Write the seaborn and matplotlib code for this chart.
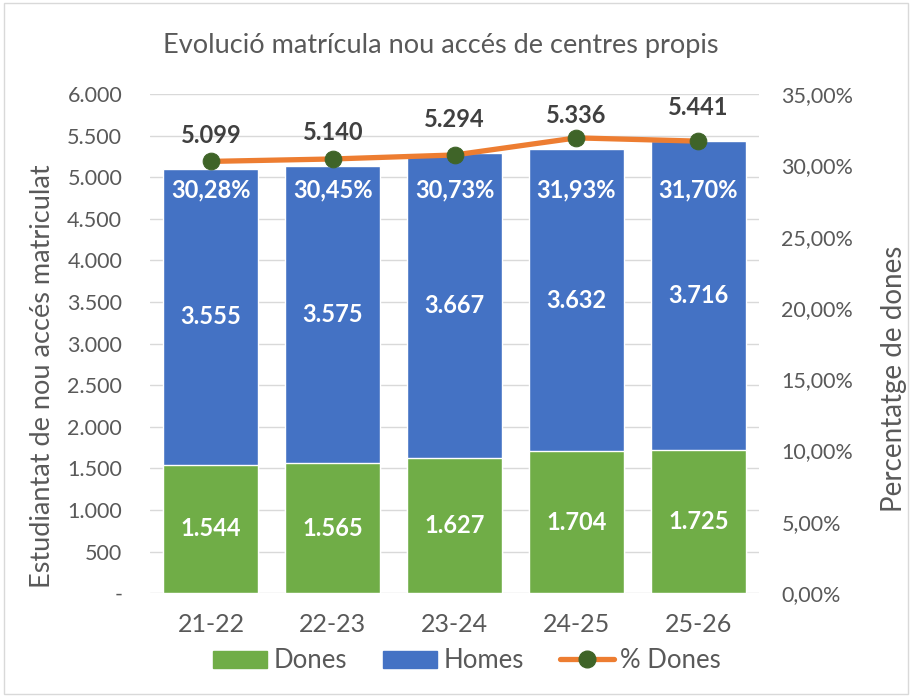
import numpy as np
import pandas as pd
import matplotlib
matplotlib.use('Agg')
import matplotlib.pyplot as plt
import seaborn as sns
from matplotlib.patches import Rectangle, Patch
from matplotlib.lines import Line2D

# Dades (llegides del gràfic)
cursos = ['21-22', '22-23', '23-24', '24-25', '25-26']
dones = [1544, 1565, 1627, 1704, 1725]
homes = [3555, 3575, 3667, 3632, 3716]
pct_dones = [30.28, 30.45, 30.73, 31.93, 31.70]

df = pd.DataFrame({'curs': cursos, 'dones': dones, 'homes': homes, 'pct': pct_dones})
df['total'] = df['dones'] + df['homes']

sns.set_style('white')
plt.rcParams['font.family'] = ['Lato', 'DejaVu Sans']

GREEN = '#70AD47'
BLUE = '#4472C4'
ORANGE = '#ED7D31'
DKGREEN = '#3F6428'
GREY = '#595959'

fig = plt.figure(figsize=(9.12, 6.97), dpi=100)
ax = fig.add_axes([0.1645, 0.149, 0.668, 0.716])

# barres apilades: total (blau) i dones (verd) al damunt
sns.barplot(data=df, x='curs', y='total', color=BLUE, width=0.78, saturation=1, ax=ax)
sns.barplot(data=df, x='curs', y='dones', color=GREEN, width=0.78, saturation=1, ax=ax)

ax.set_xlim(-0.5, 4.5)
ax.set_ylim(0, 6000)
yt = np.arange(0, 6001, 500)
ax.set_yticks(yt)
ax.set_yticklabels(['-' if v == 0 else f'{v:,.0f}'.replace(',', '.') for v in yt])
ax.yaxis.grid(True, color='#D9D9D9', lw=1)
ax.set_axisbelow(True)
ax.set_xlabel('')
ax.set_ylabel('Estudiantat de nou accés matriculat', fontsize=19.5, color=GREY)
ax.yaxis.set_label_coords(-0.156, 0.435)
ax.tick_params(axis='y', length=0, pad=20, labelsize=15.5, labelcolor=GREY)
ax.tick_params(axis='x', length=0, pad=14, labelsize=18, labelcolor=GREY)
for s in ax.spines.values():
    s.set_visible(False)

# línia % dones a l'eix secundari
ax2 = ax.twinx()
x = np.arange(len(cursos))
sns.lineplot(x=x, y=df['pct'], color=ORANGE, lw=3.8, marker='o', markersize=12,
             markerfacecolor=DKGREEN, markeredgecolor=DKGREEN, ax=ax2, legend=False)
ax2.set_ylim(0, 35)
yt2 = np.arange(0, 36, 5)
ax2.set_yticks(yt2)
ax2.set_yticklabels([f'{v:.2f}%'.replace('.', ',') for v in yt2])
ax2.tick_params(axis='y', length=0, pad=16, labelsize=15.5, labelcolor=GREY)
ax2.set_ylabel('Percentatge de dones', fontsize=20, color=GREY)
ax2.yaxis.set_label_coords(1.200, 0.429)
for s in ax2.spines.values():
    s.set_visible(False)

# etiquetes de dades
lbl = dict(ha='center', va='center', fontsize=17, fontweight='bold')
for i, r in df.iterrows():
    ax2.annotate(f'{r.total:,.0f}'.replace(',', '.'), xy=(i, r.total * 35 / 6000),
                 xytext=(0, 24), textcoords='offset points', color='#404040', **lbl)
    ax2.text(i, 4850 * 35 / 6000, f'{r.pct:.2f}%'.replace('.', ','), color='white', **lbl)
    ax2.text(i, (r.dones + r.homes / 2) * 35 / 6000, f'{r.homes:,.0f}'.replace(',', '.'),
             color='white', **lbl)
    ax2.text(i, (r.dones / 2) * 35 / 6000, f'{r.dones:,.0f}'.replace(',', '.'),
             color='white', **lbl)

fig.text(0.483, 0.935, 'Evolució matrícula nou accés de centres propis',
         ha='center', va='center', fontsize=19.5, color=GREY)

handles = [Patch(color=GREEN, label='Dones'), Patch(color=BLUE, label='Homes'),
           Line2D([0], [0], color=ORANGE, lw=3.8, marker='o', markersize=12,
                  markerfacecolor=DKGREEN, markeredgecolor=DKGREEN, label='% Dones')]
fig.legend(handles=handles, loc='center', bbox_to_anchor=(0.512, 0.052), ncol=3,
           frameon=False, fontsize=18.5, labelcolor=GREY, handlelength=2.1,
           handleheight=0.65, handletextpad=0.25, columnspacing=1.4)

fig.patches.append(Rectangle((0.004, 0.004), 0.992, 0.992, transform=fig.transFigure,
                             fill=False, ec='#D9D9D9', lw=1))

fig.savefig('out.png', dpi=100)
